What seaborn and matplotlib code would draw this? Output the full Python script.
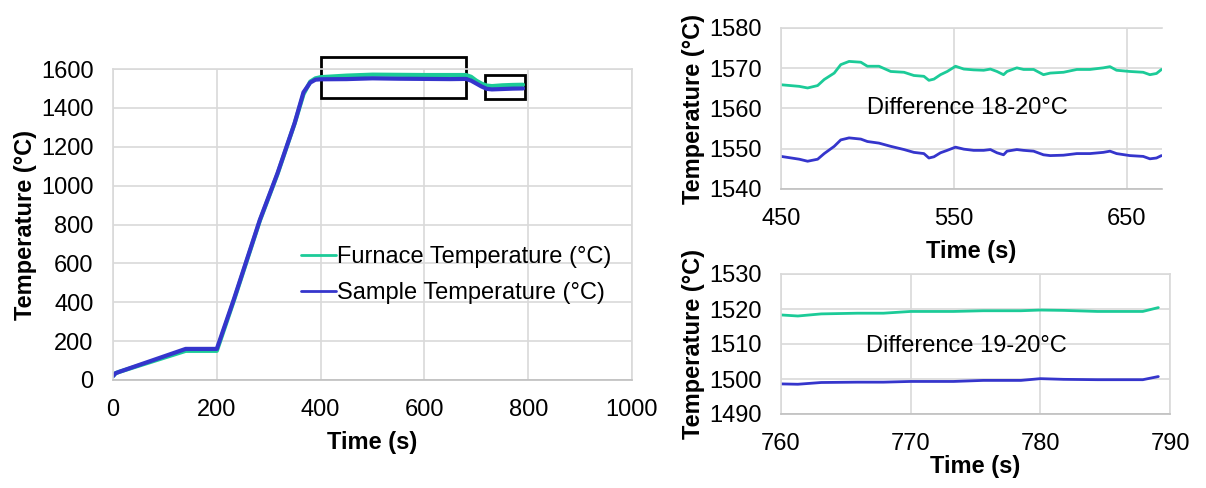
import numpy as np
import pandas as pd
import matplotlib
matplotlib.use("Agg")
import matplotlib.pyplot as plt
import seaborn as sns
from matplotlib.patches import Rectangle

# ---------------- data ----------------
# main plot (overview)
main_time = [0, 5, 12, 140, 200, 233, 283, 317, 350, 367, 380, 390, 400, 450, 500, 550, 600, 650, 680, 690, 700, 710, 720, 730, 750, 770, 790]
main_furnace = [20, 35, 42, 150, 150, 410, 820, 1060, 1320, 1470, 1535, 1552, 1558, 1566, 1571, 1570, 1569, 1569, 1569, 1560, 1540, 1525, 1515, 1512, 1516, 1518, 1519]
main_sample = [20, 35, 42, 160, 160, 416, 824, 1064, 1322, 1480, 1530, 1545, 1547, 1548, 1552, 1550, 1549, 1548, 1549, 1540, 1525, 1510, 1498, 1495, 1497, 1499, 1500]

# zoom 1 (450-670 s)
z1_time = [450, 460.6, 465.4, 471.2, 475, 480.8, 484.6, 489.4, 496.2, 500, 506.7, 513.5, 521.2, 526.9,
           532.7, 535.6, 538.5, 542.3, 546.2, 551, 555.8, 561.5, 567.3, 571.2, 575, 578.8, 580.8,
           586.5, 590.4, 596.2, 601.9, 605.8, 613.5, 621.2, 628.8, 636.5, 640.4, 644.2, 651.9,
           659.6, 663.5, 667.3, 670.2]
z1_furnace = [1565.9, 1565.5, 1565.1, 1565.7, 1567.2, 1568.8, 1570.9, 1571.7, 1571.5, 1570.5, 1570.5,
              1569.2, 1569.0, 1568.2, 1568.0, 1567.0, 1567.3, 1568.4, 1569.2, 1570.5, 1569.8, 1569.6,
              1569.5, 1569.8, 1569.2, 1568.4, 1569.2, 1570.1, 1569.7, 1569.7, 1568.4, 1568.8, 1569.0,
              1569.7, 1569.7, 1570.1, 1570.4, 1569.5, 1569.2, 1569.0, 1568.4, 1568.7, 1569.7]
z1_sample = [1548.1, 1547.4, 1546.9, 1547.4, 1548.8, 1550.6, 1552.2, 1552.7, 1552.4, 1551.8, 1551.4,
             1550.6, 1549.8, 1549.1, 1548.8, 1547.7, 1548.0, 1549.0, 1549.6, 1550.4, 1549.9, 1549.6,
             1549.6, 1549.8, 1549.0, 1548.5, 1549.4, 1549.8, 1549.6, 1549.4, 1548.5, 1548.3, 1548.4,
             1548.8, 1548.8, 1549.1, 1549.4, 1548.8, 1548.3, 1548.1, 1547.5, 1547.7, 1548.3]

# zoom 2 (760-790 s)
z2_time = [760, 761.3, 763.1, 765.9, 767.9, 770, 773.3, 775.6, 778.5, 780, 781.8, 784.4, 787.9, 789.1]
z2_furnace = [1518.3, 1518.0, 1518.6, 1518.8, 1518.8, 1519.3, 1519.3, 1519.5, 1519.5, 1519.7, 1519.6, 1519.3, 1519.3, 1520.4]
z2_sample = [1498.6, 1498.5, 1499.0, 1499.1, 1499.1, 1499.3, 1499.3, 1499.6, 1499.6, 1500.1, 1499.9, 1499.8, 1499.8, 1500.7]

labels = ["Furnace Temperature (°C)", "Sample Temperature (°C)"]
note1 = "Difference 18-20°C"
note2 = "Difference 19-20°C"

GREEN = "#1ccb98"
BLUE = "#3535cc"
GRID = "#d9d9d9"

sns.set_theme(style="white")
plt.rcParams["font.family"] = ["Liberation Sans", "DejaVu Sans"]
plt.rcParams["text.color"] = "black"
plt.rcParams["axes.labelcolor"] = "black"

fig = plt.figure(figsize=(12.06, 4.88), dpi=100)
ax0 = fig.add_axes([113/1206, 1-380/488, (632-113)/1206, (380-69)/488])
ax1 = fig.add_axes([781/1206, 1-189/488, (1162-781)/1206, (189-28)/488])
ax2 = fig.add_axes([781/1206, 1-414/488, (1170-781)/1206, (414-274)/488])


def long(t, f, s):
    return pd.DataFrame({
        "Time": list(t) + list(t),
        "Temp": list(f) + list(s),
        "Series": [labels[0]] * len(t) + [labels[1]] * len(t),
    })


def style(ax, xlim, ylim, xt, yt, xpad=7):
    ax.set_xlim(*xlim)
    ax.set_ylim(*ylim)
    ax.set_xticks(xt)
    ax.set_yticks(yt)
    ax.grid(True, color=GRID, lw=1.2)
    ax.set_axisbelow(True)
    for sp in ax.spines.values():
        sp.set_color(GRID)
        sp.set_linewidth(1.2)
    ax.spines["bottom"].set_color("#bfbfbf")
    ax.tick_params(axis="both", labelsize=17, length=0, pad=14, colors="black")
    ax.set_xlabel("Time (s)", fontsize=17, fontweight="bold", labelpad=xpad)
    ax.set_ylabel("Temperature (°C)", fontsize=17, fontweight="bold", labelpad=3)


pal = {labels[0]: GREEN, labels[1]: BLUE}

sns.lineplot(data=long(main_time, main_furnace, main_sample), x="Time", y="Temp", hue="Series",
             palette=pal, lw=3, ax=ax0, legend=True)
style(ax0, (0, 1000), (0, 1600), range(0, 1001, 200), range(0, 1601, 200))
leg = ax0.legend(loc="upper left", bbox_to_anchor=(0.345, 0.461), frameon=False, fontsize=17,
                 handlelength=1.45, handletextpad=0.05, labelspacing=0.6, borderaxespad=0)
for h in leg.get_lines():
    h.set_linewidth(2)

ax0.add_patch(Rectangle((400, 1453), 281, 208, fill=False, ec="black", lw=2, clip_on=False))
ax0.add_patch(Rectangle((716, 1448), 78, 119, fill=False, ec="black", lw=2, clip_on=False))

sns.lineplot(data=long(z1_time, z1_furnace, z1_sample), x="Time", y="Temp", hue="Series",
             palette=pal, lw=2, ax=ax1, legend=False)
style(ax1, (450, 670.5), (1540, 1580), [450, 550, 650], range(1540, 1581, 10))
ax1.spines["right"].set_visible(False)
ax1.text(558, 1560, note1, ha="center", va="center", fontsize=17)

sns.lineplot(data=long(z2_time, z2_furnace, z2_sample), x="Time", y="Temp", hue="Series",
             palette=pal, lw=2, ax=ax2, legend=False)
style(ax2, (760, 790), (1490, 1530), [760, 770, 780, 790], range(1490, 1531, 10), xpad=0)
ax2.text(774.3, 1509.3, note2, ha="center", va="center", fontsize=17)

fig.savefig("out.png", dpi=100)
